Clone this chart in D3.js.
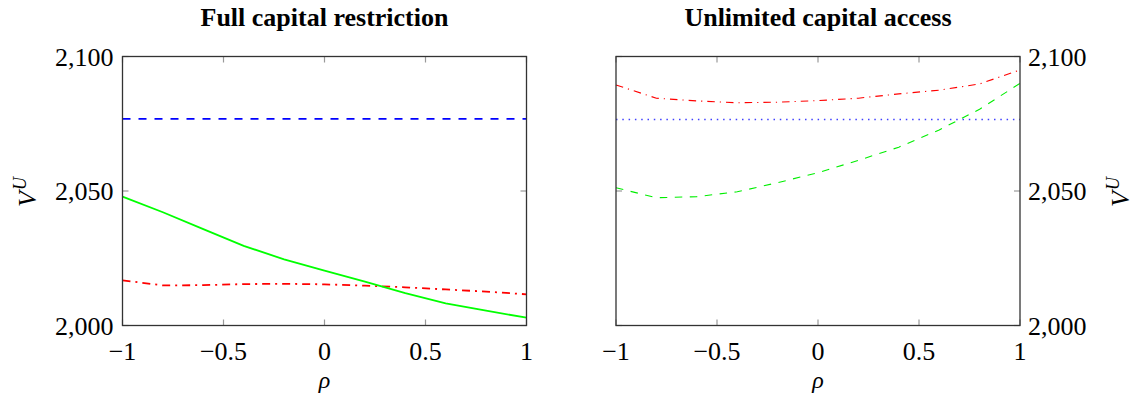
<!DOCTYPE html>
<html>
<head>
<meta charset="utf-8">
<script src="https://cdn.jsdelivr.net/npm/d3@7"></script>
<style>
  body { margin: 0; background: #fff; }
  svg { display: block; font-family: "Liberation Serif", "DejaVu Serif", serif; }
</style>
</head>
<body>
<svg id="chart" width="1135" height="394"></svg>
<script>
// data
const rho = [-1, -0.8, -0.6, -0.4, -0.2, 0, 0.2, 0.4, 0.6, 0.8, 1];

const leftBlue  = [2076.8, 2076.8, 2076.8, 2076.8, 2076.8, 2076.8, 2076.8, 2076.8, 2076.8, 2076.8, 2076.8];
const leftGreen = [2047.9, 2042.1, 2035.8, 2029.6, 2024.6, 2020.4, 2016.3, 2012.0, 2008.2, 2005.5, 2002.9];
const leftRed   = [2016.8, 2014.9, 2015.0, 2015.4, 2015.5, 2015.3, 2014.8, 2014.2, 2013.4, 2012.6, 2011.6];

const rightBlue  = [2076.6, 2076.6, 2076.6, 2076.6, 2076.6, 2076.6, 2076.6, 2076.6, 2076.6, 2076.6, 2076.6];
const rightGreen = [2051.2, 2047.5, 2047.9, 2049.7, 2053.1, 2056.8, 2061.4, 2066.3, 2072.7, 2080.4, 2090.0];
const rightRed   = [2089.4, 2084.5, 2083.5, 2082.8, 2083.0, 2083.6, 2084.5, 2086.1, 2087.5, 2089.8, 2095.0];

const xTicks = [-1, -0.5, 0, 0.5, 1];
const xTickLabels = ["\u22121", "\u22120.5", "0", "0.5", "1"];
const yTicks = [2000, 2050, 2100];
const yTickLabels = ["2,000", "2,050", "2,100"];

const titles = ["Full capital restriction", "Unlimited capital access"];

const svg = d3.select("#chart");
const plotTop = 56.5, plotBottom = 325.5;

const y = d3.scaleLinear().domain([2000, 2100]).range([plotBottom, plotTop]);

const panels = [
  {
    x0: 122.5, x1: 526.5, title: titles[0], axisSide: "left",
    series: [
      { values: leftBlue,  color: "#0000ff", width: 1.8, dash: "8,8" },
      { values: leftRed,   color: "#ff0000", width: 1.8, dash: "8,5,2,5" },
      { values: leftGreen, color: "#00ff00", width: 1.8, dash: null }
    ]
  },
  {
    x0: 616, x1: 1020, title: titles[1], axisSide: "right",
    series: [
      { values: rightBlue,  color: "#4040ff", width: 1.5, dash: "1.5,4.8" },
      { values: rightRed,   color: "#ff0000", width: 1.1, dash: "7.5,5,1.2,5" },
      { values: rightGreen, color: "#00ee00", width: 1.1, dash: "7.5,7.5" }
    ]
  }
];

panels.forEach(p => drawPanel(p));

function drawPanel(p) {
  const x = d3.scaleLinear().domain([-1, 1]).range([p.x0, p.x1]);
  const g = svg.append("g");

  // title
  g.append("text")
    .attr("x", (p.x0 + p.x1) / 2)
    .attr("y", 26)
    .attr("text-anchor", "middle")
    .attr("font-size", 26)
    .attr("font-weight", "bold")
    .text(p.title);

  // inner ticks on all sides
  const tickLen = 6;
  const ticks = g.append("g").attr("stroke", "#999").attr("stroke-width", 1.2);
  xTicks.forEach(t => {
    ticks.append("line").attr("x1", x(t)).attr("x2", x(t)).attr("y1", plotBottom).attr("y2", plotBottom - tickLen);
    ticks.append("line").attr("x1", x(t)).attr("x2", x(t)).attr("y1", plotTop).attr("y2", plotTop + tickLen);
  });
  yTicks.forEach(t => {
    ticks.append("line").attr("x1", p.x0).attr("x2", p.x0 + tickLen).attr("y1", y(t)).attr("y2", y(t));
    ticks.append("line").attr("x1", p.x1).attr("x2", p.x1 - tickLen).attr("y1", y(t)).attr("y2", y(t));
  });

  // lines
  const line = d3.line().x((d, i) => x(rho[i])).y(d => y(d));
  p.series.forEach(s => {
    g.append("path")
      .attr("d", line(s.values))
      .attr("fill", "none")
      .attr("stroke", s.color)
      .attr("stroke-width", s.width)
      .attr("stroke-dasharray", s.dash);
  });

  // frame
  g.append("rect")
    .attr("x", p.x0).attr("y", plotTop)
    .attr("width", p.x1 - p.x0).attr("height", plotBottom - plotTop)
    .attr("fill", "none")
    .attr("stroke", "#333")
    .attr("stroke-width", 1.3);

  // x tick labels
  g.selectAll(".xl").data(xTicks).join("text")
    .attr("x", d => x(d))
    .attr("y", 360)
    .attr("text-anchor", "middle")
    .attr("font-size", 26)
    .text((d, i) => xTickLabels[i]);

  // x label
  g.append("text")
    .attr("x", (p.x0 + p.x1) / 2)
    .attr("y", 388)
    .attr("text-anchor", "middle")
    .attr("font-size", 24)
    .attr("font-style", "italic")
    .text("\u03c1");

  // y tick labels
  const left = p.axisSide === "left";
  g.selectAll(".yl").data(yTicks).join("text")
    .attr("x", left ? p.x0 - 9 : p.x1 + 8)
    .attr("y", d => y(d) + 9)
    .attr("text-anchor", left ? "end" : "start")
    .attr("font-size", 26)
    .text((d, i) => yTickLabels[i]);

  // y label V^U
  const lx = left ? 36 : 1129;
  const yl = g.append("text")
    .attr("transform", `translate(${lx},207) rotate(-90)`)
    .attr("font-size", 26)
    .attr("font-style", "italic");
  yl.append("tspan").text("V");
  yl.append("tspan").attr("dy", -10).attr("dx", 1).attr("font-size", 18).text("U");
}
</script>
</body>
</html>
